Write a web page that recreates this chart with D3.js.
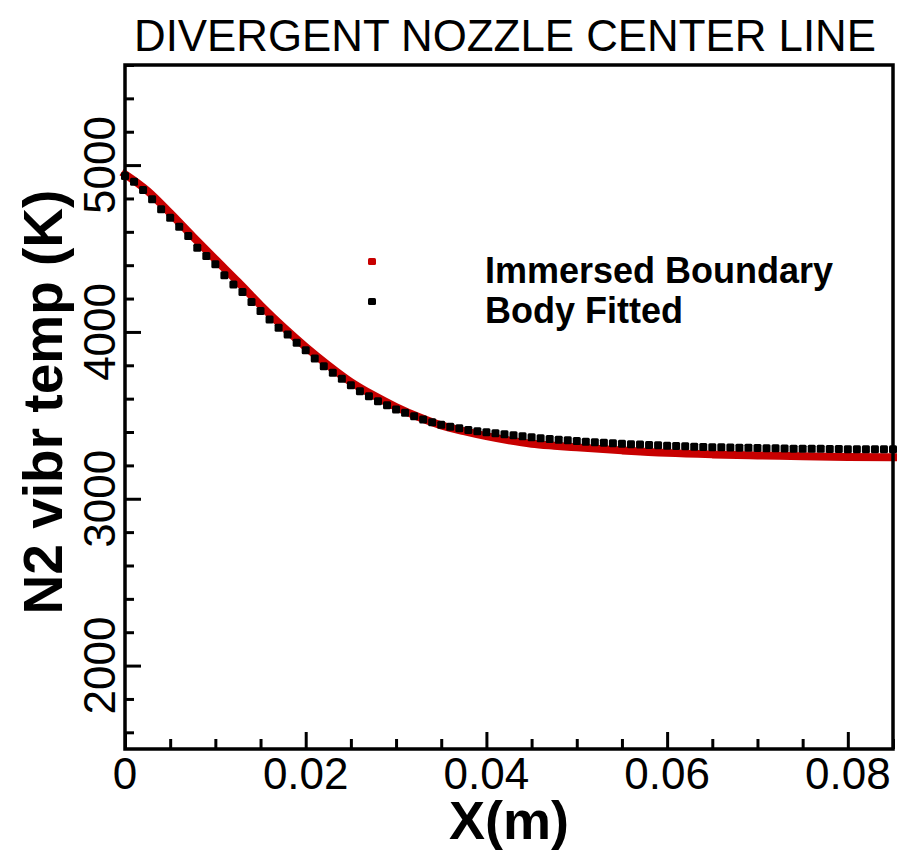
<!DOCTYPE html>
<html>
<head>
<meta charset="utf-8">
<script src="https://cdn.jsdelivr.net/npm/d3@7"></script>
<style>
body { margin: 0; background: #fff; }
text { font-family: "Liberation Sans", Arial, Helvetica, sans-serif; }
</style>
</head>
<body>
<script>
// data
var titleText = "DIVERGENT NOZZLE CENTER LINE"
var xLabel = "X(m)"
var yLabel = "N2 vibr temp (K)"
var seriesNames = ["Immersed Boundary", "Body Fitted"]

var xTicks = [0, 0.02, 0.04, 0.06, 0.08]
var yTicks = [2000, 3000, 4000, 5000]

// body fitted (black squares), one point each mm
var bfX = [0.000,0.001,0.002,0.003,0.004,0.005,0.006,0.007,0.008,0.009,
	0.010,0.011,0.012,0.013,0.014,0.015,0.016,0.017,0.018,0.019,
	0.020,0.021,0.022,0.023,0.024,0.025,0.026,0.027,0.028,0.029,
	0.030,0.031,0.032,0.033,0.034,0.035,0.036,0.037,0.038,0.039,
	0.040,0.041,0.042,0.043,0.044,0.045,0.046,0.047,0.048,0.049,
	0.050,0.051,0.052,0.053,0.054,0.055,0.056,0.057,0.058,0.059,
	0.060,0.061,0.062,0.063,0.064,0.065,0.066,0.067,0.068,0.069,
	0.070,0.071,0.072,0.073,0.074,0.075,0.076,0.077,0.078,0.079,
	0.080,0.081,0.082,0.083,0.084,0.085]
var bfT = [4935,4900,4850,4795,4735,4685,4630,4575,4505,4455,
	4405,4340,4285,4240,4180,4125,4075,4025,3985,3935,
	3890,3840,3795,3755,3720,3680,3645,3615,3585,3560,
	3535,3515,3495,3475,3458,3443,3432,3422,3412,3405,
	3398,3392,3386,3380,3374,3368,3363,3358,3354,3350,
	3346,3342,3339,3336,3333,3330,3327,3325,3322,3320,
	3318,3316,3314,3312,3310,3309,3308,3307,3306,3305,
	3304,3303,3302,3301,3300,3300,3299,3299,3298,3298,
	3297,3297,3297,3296,3296,3296]

// immersed boundary (red, very dense so it reads as a band)
var ibX = [0.000,0.0025,0.005,0.0075,0.010,0.0125,0.015,0.0175,0.020,0.0225,
	0.025,0.0275,0.030,0.0325,0.035,0.0375,0.040,0.0425,0.045,0.0475,
	0.050,0.055,0.060,0.065,0.070,0.075,0.080,0.085]
var ibT = [4945,4845,4712,4572,4435,4300,4160,4030,3910,3800,
	3700,3620,3550,3490,3440,3405,3375,3350,3330,3318,
	3308,3290,3275,3266,3260,3255,3251,3249]

var width = 902, height = 851
var margin = {left: 125, right: 9, top: 65, bottom: 102}

var svg = d3.select("body").append("svg")
	.attr("width", width)
	.attr("height", height)

svg.append("rect").attr("width", width).attr("height", height).attr("fill", "#fff")

var x = d3.scaleLinear()
	.domain([0, 0.085])
	.range([margin.left, width - margin.right])
var y = d3.scaleLinear()
	.domain([1500, 5600])
	.range([height - margin.bottom, margin.top])

// title
svg.append("text")
	.attr("x", 505).attr("y", 51)
	.attr("text-anchor", "middle")
	.attr("font-size", 45)
	.attr("textLength", 742)
	.attr("lengthAdjust", "spacingAndGlyphs")
	.text(titleText)

// ticks (inside, left and bottom only)
var minorY = d3.range(1600, 5601, 200).filter(function(d) { return d % 1000 != 0 })
var minorX = d3.range(0.005, 0.0851, 0.005).filter(function(d) { return Math.abs(d / 0.02 - Math.round(d / 0.02)) > 1e-6 })

var yAxis = d3.axisLeft(y).tickValues(yTicks).tickSize(-16).tickFormat("")
var yAxisMinor = d3.axisLeft(y).tickValues(minorY).tickSize(-9).tickFormat("")
var xAxis = d3.axisBottom(x).tickValues(xTicks).tickSize(-17).tickFormat("")
var xAxisMinor = d3.axisBottom(x).tickValues(minorX).tickSize(-10).tickFormat("")

function styleAxis(g) {
	g.select(".domain").remove()
	g.selectAll("line").attr("stroke", "#000").attr("stroke-width", 3)
}
svg.append("g").attr("transform", "translate(" + margin.left + ",0)").call(yAxis).call(styleAxis)
svg.append("g").attr("transform", "translate(" + margin.left + ",0)").call(yAxisMinor).call(styleAxis)
svg.append("g").attr("transform", "translate(0," + y(1500) + ")").call(xAxis).call(styleAxis)
svg.append("g").attr("transform", "translate(0," + y(1500) + ")").call(xAxisMinor).call(styleAxis)

// tick labels
svg.selectAll(".xlab").data(xTicks).enter().append("text")
	.attr("x", function(d) { return x(d) })
	.attr("y", 789)
	.attr("text-anchor", "middle")
	.attr("font-size", 44)
	.text(function(d) { return d == 0 ? "0" : d3.format(".2f")(d) })

svg.selectAll(".ylab").data(yTicks).enter().append("text")
	.attr("transform", function(d) { return "translate(115," + y(d) + ") rotate(-90)" })
	.attr("text-anchor", "middle")
	.attr("font-size", 44)
	.text(function(d) { return d })

// axis titles
svg.append("text")
	.attr("x", 509).attr("y", 839)
	.attr("text-anchor", "middle")
	.attr("font-size", 54)
	.attr("font-weight", "bold")
	.text(xLabel)

svg.append("text")
	.attr("transform", "translate(62,402) rotate(-90)")
	.attr("text-anchor", "middle")
	.attr("font-size", 55)
	.attr("font-weight", "bold")
	.text(yLabel)

// red series drawn as a thick band
var ibData = ibX.map(function(d, i) { return [d, ibT[i]] })
var line = d3.line()
	.x(function(d) { return x(d[0]) })
	.y(function(d) { return y(d[1]) })
	.curve(d3.curveMonotoneX)

svg.append("path")
	.datum(ibData)
	.attr("d", line)
	.attr("fill", "none")
	.attr("stroke", "#c80000")
	.attr("stroke-width", 8)
	.attr("stroke-linecap", "square")
	.attr("stroke-linejoin", "round")

// black squares
var bfData = bfX.map(function(d, i) { return [d, bfT[i]] })
var sq = 8
svg.selectAll(".bf").data(bfData).enter().append("rect")
	.attr("x", function(d) { return x(d[0]) - sq / 2 })
	.attr("y", function(d) { return y(d[1]) - sq / 2 })
	.attr("width", sq).attr("height", sq)
	.attr("rx", 1.5)
	.attr("fill", "#000")

// frame
svg.append("rect")
	.attr("x", margin.left).attr("y", margin.top)
	.attr("width", width - margin.left - margin.right)
	.attr("height", height - margin.top - margin.bottom)
	.attr("fill", "none")
	.attr("stroke", "#000")
	.attr("stroke-width", 3.5)

// legend
var legendColors = ["#c80000", "#000"]
var legend = svg.selectAll(".leg").data(seriesNames).enter().append("g")
	.attr("transform", function(d, i) { return "translate(0," + (i * 40) + ")" })
legend.append("rect")
	.attr("x", 368).attr("y", 258)
	.attr("width", 8).attr("height", 7).attr("rx", 1.5)
	.attr("fill", function(d, i) { return legendColors[i] })
legend.append("text")
	.attr("x", 485).attr("y", 283)
	.attr("font-size", 36)
	.attr("font-weight", "bold")
	.text(function(d) { return d })
</script>
</body>
</html>
